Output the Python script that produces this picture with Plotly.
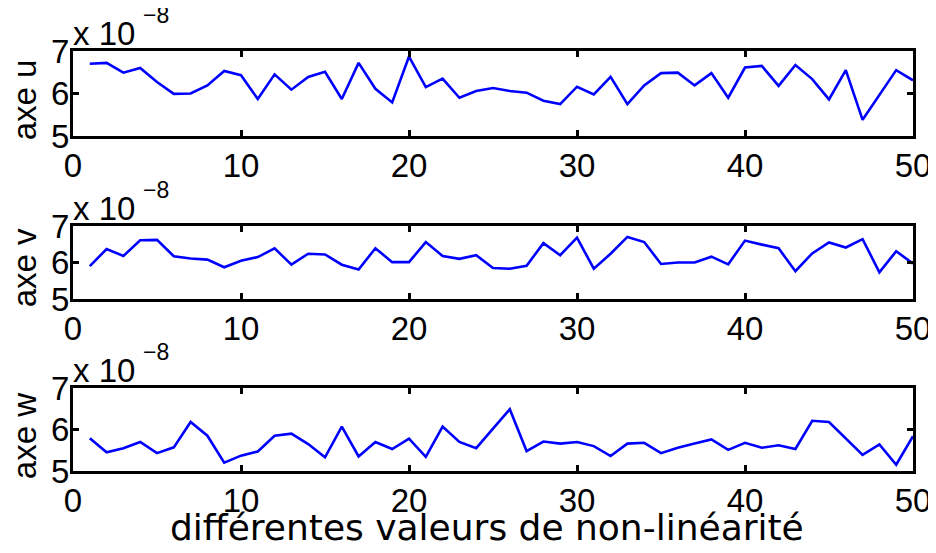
import plotly.graph_objects as go
from plotly.subplots import make_subplots

# valeurs (x 1e-8) pour chaque axe
x_vals = list(range(1, 51))
axe_u = [6.70, 6.72, 6.49, 6.60, 6.27, 5.99, 6.00, 6.19, 6.53, 6.43,
         5.87, 6.45, 6.09, 6.39, 6.51, 5.87, 6.72, 6.11, 5.79, 6.87,
         6.15, 6.35, 5.90, 6.06, 6.13, 6.06, 6.02, 5.83, 5.75, 6.16,
         5.98, 6.39, 5.75, 6.19, 6.48, 6.49, 6.19, 6.48, 5.90, 6.61,
         6.65, 6.18, 6.67, 6.34, 5.86, 6.55, 5.38, 5.96, 6.55, 6.31]
axe_v = [5.90, 6.37, 6.18, 6.61, 6.62, 6.17, 6.11, 6.08, 5.87, 6.05,
         6.15, 6.39, 5.94, 6.24, 6.22, 5.94, 5.81, 6.39, 6.01, 6.01,
         6.56, 6.18, 6.10, 6.20, 5.85, 5.83, 5.91, 6.53, 6.20, 6.68,
         5.83, 6.24, 6.70, 6.56, 5.96, 6.00, 6.00, 6.16, 5.95, 6.60,
         6.49, 6.39, 5.76, 6.25, 6.55, 6.41, 6.64, 5.73, 6.31, 5.97]
axe_w = [5.79, 5.45, 5.55, 5.70, 5.43, 5.57, 6.18, 5.85, 5.20, 5.37,
         5.47, 5.85, 5.90, 5.65, 5.33, 6.07, 5.35, 5.70, 5.53, 5.78,
         5.34, 6.07, 5.70, 5.55, 6.02, 6.49, 5.48, 5.71, 5.66, 5.70,
         5.60, 5.36, 5.66, 5.68, 5.43, 5.56, 5.66, 5.76, 5.51, 5.68,
         5.56, 5.62, 5.53, 6.21, 6.18, 5.78, 5.39, 5.64, 5.15, 5.84]

series = [("axe u", axe_u), ("axe v", axe_v), ("axe w", axe_w)]
x_ticks = [0, 10, 20, 30, 40, 50]
y_ticks = [5, 6, 7]
xlabel = "différentes valeurs de non-linéarité"

# the page body has an 8px margin, so the figure is a bit smaller than the window
W, H = 924, 537
m_l, m_r, m_t, m_b = 65, 19, 43, 74
pw = W - m_l - m_r
ph = H - m_t - m_b
# pixel top/bottom of each panel, converted to paper domain
panels = [(43, 128), (218, 291), (380, 463)]
domains = [[(H - m_b - b) / ph, (H - m_b - t) / ph] for t, b in panels]

font_main = "Liberation Sans, Arial, sans-serif"
tick_font = dict(size=33, color="black", family=font_main)

fig = make_subplots(rows=3, cols=1)

for i, (name, vals) in enumerate(series):
    r = i + 1
    fig.add_trace(go.Scatter(x=x_vals, y=vals, mode="lines",
                             line=dict(color="#0000ff", width=2.6),
                             showlegend=False), row=r, col=1)
    fig.update_xaxes(range=[0, 50], tickvals=x_ticks, ticks="inside", ticklen=6,
                     tickwidth=2.5, tickcolor="black", showline=True, linewidth=3,
                     linecolor="black", mirror="ticks", showgrid=False, zeroline=False,
                     tickfont=tick_font, ticklabelstandoff=-2, row=r, col=1)
    fig.update_yaxes(range=[5, 7], tickvals=y_ticks, ticks="inside", ticklen=6,
                     tickwidth=2.5, tickcolor="black", showline=True, linewidth=3,
                     linecolor="black", mirror="ticks", showgrid=False, zeroline=False,
                     tickfont=tick_font, ticklabelstandoff=-6,
                     domain=domains[i], row=r, col=1)
    yd = "y domain" if r == 1 else "y%d domain" % r
    xd = "x domain" if r == 1 else "x%d domain" % r
    # facteur d'echelle
    fig.add_annotation(text="x 10", xref=xd, yref=yd, x=-0.002, y=1,
                       xanchor="left", yanchor="bottom", yshift=-3, showarrow=False,
                       font=tick_font)
    fig.add_annotation(text="\u22128", xref=xd, yref=yd, x=0.0805, y=1,
                       xanchor="left", yanchor="bottom", yshift=21, showarrow=False,
                       font=dict(size=23, color="black", family=font_main))
    # titre de l'axe y
    fig.add_annotation(text=name, xref="paper", yref=yd, x=(16 - m_l) / pw,
                       y=0.42, xanchor="center", yanchor="middle", textangle=-90,
                       showarrow=False, font=tick_font)

fig.add_annotation(text=xlabel, xref="paper", yref="paper", x=(479 - m_l) / pw,
                   y=(H - m_b - 519) / ph, xanchor="center", yanchor="middle",
                   showarrow=False,
                   font=dict(size=36, color="black", family="DejaVu Sans"))

fig.update_layout(width=W, height=H, plot_bgcolor="white", paper_bgcolor="white",
                  margin=dict(l=m_l, r=m_r, t=m_t, b=m_b, autoexpand=False))

fig.write_html("out.html")
